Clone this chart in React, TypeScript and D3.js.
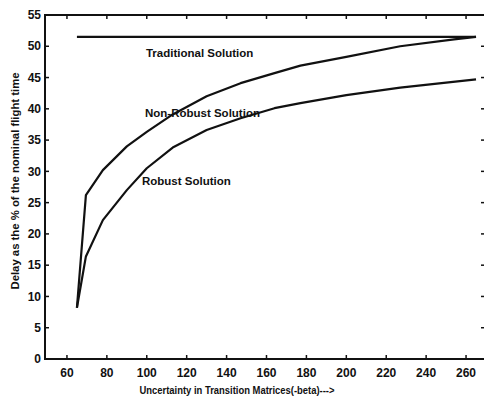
import * as d3 from "d3";

// values
const xTicks = [60, 80, 100, 120, 140, 160, 180, 200, 220, 240, 260];
const yTicks = [0, 5, 10, 15, 20, 25, 30, 35, 40, 45, 50, 55];

const traditionalX = [65, 265];
const traditionalY = [51.5, 51.5];

const nonRobustX = [65, 69.5, 78, 90, 100, 113, 130, 147, 164, 177, 200, 227, 254, 265];
const nonRobustY = [8.2, 26.2, 30.2, 34, 36.3, 39.1, 42, 44.1, 45.7, 46.9, 48.3, 50, 51.1, 51.5];

const robustX = [65, 69.5, 78, 90, 100, 113, 130, 147, 164, 177, 200, 227, 265];
const robustY = [8.2, 16.4, 22.2, 27, 30.5, 33.8, 36.6, 38.5, 40.1, 40.9, 42.2, 43.4, 44.7];

const labels = [
    { text: "Traditional Solution", x: 99.6, y: 48.9 },
    { text: "Non-Robust Solution", x: 99.1, y: 39.3 },
    { text: "Robust Solution", x: 97.6, y: 28.4 },
];

const W = 484;
const H = 398;
const font = "'Liberation Sans', Arial, sans-serif";

const App = () => {
    const x = d3.scaleLinear().domain([49, 269.5]).range([45, 485]);
    const y = d3.scaleLinear().domain([0, 55]).range([359, 15]);

    const line = d3
        .line<[number, number]>()
        .x((d) => x(d[0]))
        .y((d) => y(d[1]))
        .curve(d3.curveLinear);

    const zip = (xs: number[], ys: number[]) => xs.map((v, i) => [v, ys[i]] as [number, number]);
    const series = [zip(traditionalX, traditionalY), zip(nonRobustX, nonRobustY), zip(robustX, robustY)];

    const [x0, x1] = x.range();
    const [y0, y1] = y.range();

    return (
        <svg
            width={W}
            height={H}
            style={{ position: "absolute", left: 0, top: 0, background: "#fff" }}
            fontFamily={font}
            fontWeight="bold"
            fontSize={12}
        >
            {/* frame */}
            <rect x={x0} y={y1} width={x1 - x0} height={y0 - y1} fill="none" stroke="#111" strokeWidth={2} />

            {/* x ticks, inward on bottom and top */}
            {xTicks.map((t) => (
                <g key={"x" + t}>
                    <line x1={x(t)} x2={x(t)} y1={y0} y2={y0 - 4} stroke="#111" strokeWidth={1.5} />
                    <line x1={x(t)} x2={x(t)} y1={y1} y2={y1 + 4} stroke="#111" strokeWidth={1.5} />
                    <text x={x(t)} y={y0 + 18} textAnchor="middle" fill="#111">
                        {t}
                    </text>
                </g>
            ))}

            {/* y ticks, inward on left and right */}
            {yTicks.map((t) => (
                <g key={"y" + t}>
                    <line x1={x0} x2={x0 + 4} y1={y(t)} y2={y(t)} stroke="#111" strokeWidth={1.5} />
                    <line x1={x1} x2={x1 - 4} y1={y(t)} y2={y(t)} stroke="#111" strokeWidth={1.5} />
                    <text x={x0 - 4} y={y(t)} dy="0.35em" textAnchor="end" fill="#111">
                        {t}
                    </text>
                </g>
            ))}

            {/* curves */}
            {series.map((s, i) => (
                <path key={i} d={line(s) ?? ""} fill="none" stroke="#111" strokeWidth={2.2} strokeLinejoin="round" />
            ))}

            {labels.map((l) => (
                <text key={l.text} x={x(l.x)} y={y(l.y)} dy="0.35em" fontSize={11.5} fill="#111">
                    {l.text}
                </text>
            ))}

            {/* axis titles, condensed like the scanned original */}
            <text
                x={237}
                y={394}
                textAnchor="middle"
                fontSize={11.5}
                textLength={195}
                lengthAdjust="spacingAndGlyphs"
                fill="#111"
            >
                Uncertainty in Transition Matrices(-beta)---&gt;
            </text>
            <text
                transform="translate(19,181) rotate(-90)"
                textAnchor="middle"
                fontSize={11.5}
                textLength={217}
                lengthAdjust="spacingAndGlyphs"
                fill="#111"
            >
                Delay as the % of the nominal flight time
            </text>
        </svg>
    );
};

export default App;
